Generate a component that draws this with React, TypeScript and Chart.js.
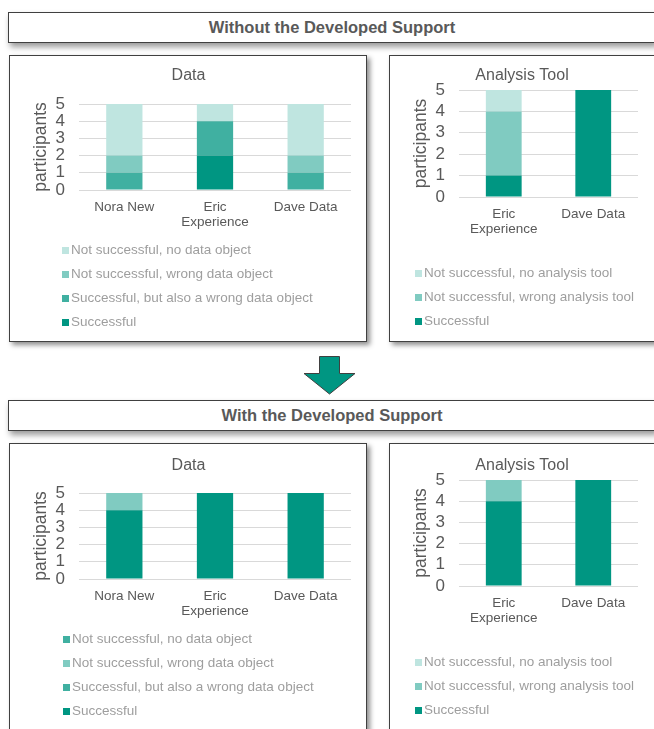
import React, { useEffect, useRef } from 'react';
import { Chart, registerables } from 'chart.js';

Chart.register(...registerables);

const FONT = '"Liberation Sans", Arial, sans-serif';
const TEXT = '#595959';
const LEGEND_TEXT = '#9e9e9e';
const GRID = '#d9d9d9';
const C_SUCCESS = '#009682';
const C_SUCC_WRONG = '#40b0a1';
const C_NOT_WRONG = '#80cbc1';
const C_NOT_NONE = '#bfe5e0';

// ---- data ----
const dataCategories: (string | string[])[] = ['Nora New', ['Eric', 'Experience'], 'Dave Data'];
const toolCategories: (string | string[])[] = [['Eric', 'Experience'], 'Dave Data'];

const dataSeriesLabels = [
  'Successful',
  'Successful, but also a wrong data object',
  'Not successful, wrong data object',
  'Not successful, no data object',
];
const toolSeriesLabels = [
  'Successful',
  'Not successful, wrong analysis tool',
  'Not successful, no analysis tool',
];

// Without the developed support
const beforeDataSuccessful = [0, 2, 0];
const beforeDataSuccessfulWrong = [1, 2, 1];
const beforeDataNotWrong = [1, 0, 1];
const beforeDataNotNone = [3, 1, 3];

const beforeToolSuccessful = [1, 5];
const beforeToolNotWrong = [3, 0];
const beforeToolNotNone = [1, 0];

// With the developed support
const afterDataSuccessful = [4, 5, 5];
const afterDataSuccessfulWrong = [0, 0, 0];
const afterDataNotWrong = [1, 0, 0];
const afterDataNotNone = [0, 0, 0];

const afterToolSuccessful = [4, 5];
const afterToolNotWrong = [1, 0];
const afterToolNotNone = [0, 0];

const yMin = 0;
const yMax = 5;
const yStep = 1;

// ---- vertical legend plugin ----
const vLegend = {
  id: 'vlegend',
  afterDraw(chart: any, _args: any, opts: any) {
    const ctx = chart.ctx;
    const ds = chart.data.datasets;
    ctx.save();
    ctx.font = `${opts.size}px ${FONT}`;
    ctx.textBaseline = 'middle';
    ctx.textAlign = 'left';
    for (let k = 0; k < ds.length; k++) {
      const i = ds.length - 1 - k;
      const y = opts.y + k * opts.gap;
      ctx.fillStyle = ds[i].backgroundColor;
      ctx.fillRect(opts.x, Math.round(y - opts.box / 2), opts.box, opts.box);
      ctx.fillStyle = opts.color;
      ctx.fillText(ds[i].label, opts.x + opts.box + opts.textGap, y);
    }
    ctx.restore();
  },
};

type Spec = {
  labels: (string | string[])[];
  datasets: { label: string; data: number[]; color: string }[];
  title: string;
  titleTop: number;
  titleBottom: number;
  padRight: number;
  padBottom: number;
  legendX: number;
  legendY: number;
};

function makeConfig(s: Spec): any {
  return {
    type: 'bar',
    data: {
      labels: s.labels,
      datasets: s.datasets.map((d) => ({
        label: d.label,
        data: d.data,
        backgroundColor: d.color,
        borderWidth: 0,
        categoryPercentage: 1,
        barPercentage: 0.4,
      })),
    },
    plugins: [vLegend],
    options: {
      responsive: false,
      animation: false,
      devicePixelRatio: 1,
      layout: { padding: { left: 16, top: 0, right: s.padRight, bottom: s.padBottom } },
      plugins: {
        legend: { display: false },
        tooltip: { enabled: false },
        title: {
          display: true,
          text: s.title,
          color: TEXT,
          font: { family: FONT, size: 16, weight: 'normal' },
          padding: { top: s.titleTop, bottom: s.titleBottom },
        },
        vlegend: {
          x: s.legendX,
          y: s.legendY,
          gap: 24,
          box: 7,
          textGap: 2,
          size: 13.5,
          color: LEGEND_TEXT,
        },
      },
      scales: {
        x: {
          stacked: true,
          grid: { display: false, drawTicks: false },
          border: { display: false },
          ticks: {
            color: TEXT,
            font: { family: FONT, size: 13.5, lineHeight: 1.11 },
            padding: 10,
            maxRotation: 0,
            autoSkip: false,
          },
          afterFit: (sc: any) => {
            sc.height = 52;
          },
        },
        y: {
          stacked: true,
          min: yMin,
          max: yMax,
          ticks: {
            stepSize: yStep,
            autoSkip: false,
            color: TEXT,
            font: { family: FONT, size: 17 },
            padding: 14,
          },
          grid: { color: GRID, drawTicks: false },
          border: { display: false },
          title: {
            display: true,
            text: 'participants',
            color: TEXT,
            font: { family: FONT, size: 17.5 },
            padding: { top: 4.5, bottom: 0 },
          },
          afterFit: (sc: any) => {
            sc.width = 53;
          },
        },
      },
    },
  };
}

function ChartCanvas({ spec, width, height }: { spec: Spec; width: number; height: number }) {
  const ref = useRef<HTMLCanvasElement | null>(null);
  useEffect(() => {
    if (!ref.current) return;
    const chart = new Chart(ref.current, makeConfig(spec));
    return () => chart.destroy();
  }, []);
  return (
    <canvas
      ref={ref}
      width={width}
      height={height}
      style={{ position: 'absolute', left: 0, top: 0, width, height, display: 'block' }}
    />
  );
}

const panelStyle = (left: number, top: number, width: number, height: number): React.CSSProperties => ({
  position: 'absolute',
  left,
  top,
  width,
  height,
  boxSizing: 'border-box',
  border: '1px solid #404040',
  background: '#fff',
  boxShadow: '3px 3px 5px rgba(0,0,0,0.45)',
  overflow: 'hidden',
});

const headerStyle = (top: number): React.CSSProperties => ({
  position: 'absolute',
  left: 8,
  top,
  width: 648,
  height: 31,
  boxSizing: 'border-box',
  border: '1px solid #404040',
  background: '#fff',
  boxShadow: '2px 4px 6px rgba(0,0,0,0.4)',
  display: 'flex',
  alignItems: 'center',
  justifyContent: 'center',
  fontFamily: FONT,
  fontWeight: 'bold',
  fontSize: 16.5,
  color: TEXT,
});

export default function App() {
  const spec1: Spec = {
    labels: dataCategories,
    datasets: [
      { label: dataSeriesLabels[0], data: beforeDataSuccessful, color: C_SUCCESS },
      { label: dataSeriesLabels[1], data: beforeDataSuccessfulWrong, color: C_SUCC_WRONG },
      { label: dataSeriesLabels[2], data: beforeDataNotWrong, color: C_NOT_WRONG },
      { label: dataSeriesLabels[3], data: beforeDataNotNone, color: C_NOT_NONE },
    ],
    title: 'Data',
    titleTop: 10.4,
    titleBottom: 18.4,
    padRight: 15,
    padBottom: 98,
    legendX: 52,
    legendY: 194,
  };
  const spec2: Spec = {
    labels: toolCategories,
    datasets: [
      { label: toolSeriesLabels[0], data: beforeToolSuccessful, color: C_SUCCESS },
      { label: toolSeriesLabels[1], data: beforeToolNotWrong, color: C_NOT_WRONG },
      { label: toolSeriesLabels[2], data: beforeToolNotNone, color: C_NOT_NONE },
    ],
    title: 'Analysis Tool',
    titleTop: 10.4,
    titleBottom: 4.4,
    padRight: 16,
    padBottom: 91,
    legendX: 25,
    legendY: 217,
  };
  const spec3: Spec = {
    labels: dataCategories,
    datasets: [
      { label: dataSeriesLabels[0], data: afterDataSuccessful, color: C_SUCCESS },
      { label: dataSeriesLabels[1], data: afterDataSuccessfulWrong, color: C_SUCC_WRONG },
      { label: dataSeriesLabels[2], data: afterDataNotWrong, color: C_NOT_WRONG },
      { label: dataSeriesLabels[3], data: afterDataNotNone, color: C_SUCC_WRONG },
    ],
    title: 'Data',
    titleTop: 12.4,
    titleBottom: 17.4,
    padRight: 15,
    padBottom: 98,
    legendX: 53,
    legendY: 195,
  };
  const spec4: Spec = {
    labels: toolCategories,
    datasets: [
      { label: toolSeriesLabels[0], data: afterToolSuccessful, color: C_SUCCESS },
      { label: toolSeriesLabels[1], data: afterToolNotWrong, color: C_NOT_WRONG },
      { label: toolSeriesLabels[2], data: afterToolNotNone, color: C_NOT_NONE },
    ],
    title: 'Analysis Tool',
    titleTop: 12.4,
    titleBottom: 4.4,
    padRight: 16,
    padBottom: 91,
    legendX: 25,
    legendY: 218,
  };

  return (
    <div
      style={{
        position: 'fixed',
        left: 0,
        top: 0,
        width: 654,
        height: 729,
        overflow: 'hidden',
        background: '#fff',
      }}
    >
      <div style={headerStyle(12)}>Without the Developed Support</div>
      <div style={panelStyle(9, 55, 358, 287)}>
        <ChartCanvas spec={spec1} width={356} height={284} />
      </div>
      <div style={panelStyle(389, 55, 300, 287)}>
        <ChartCanvas spec={spec2} width={264} height={284} />
      </div>
      <svg
        style={{ position: 'absolute', left: 300, top: 350 }}
        width={60}
        height={50}
        viewBox="0 0 60 50"
      >
        <polygon
          points="19.5,6.5 39.5,6.5 39.5,23.5 55,23.5 29.5,44 4,23.5 19.5,23.5"
          fill={C_SUCCESS}
          stroke="#404040"
          strokeWidth={1}
        />
      </svg>
      <div style={headerStyle(400)}>With the Developed Support</div>
      <div style={panelStyle(9, 443, 358, 300)}>
        <ChartCanvas spec={spec3} width={356} height={285} />
      </div>
      <div style={panelStyle(389, 443, 300, 300)}>
        <ChartCanvas spec={spec4} width={264} height={285} />
      </div>
    </div>
  );
}
